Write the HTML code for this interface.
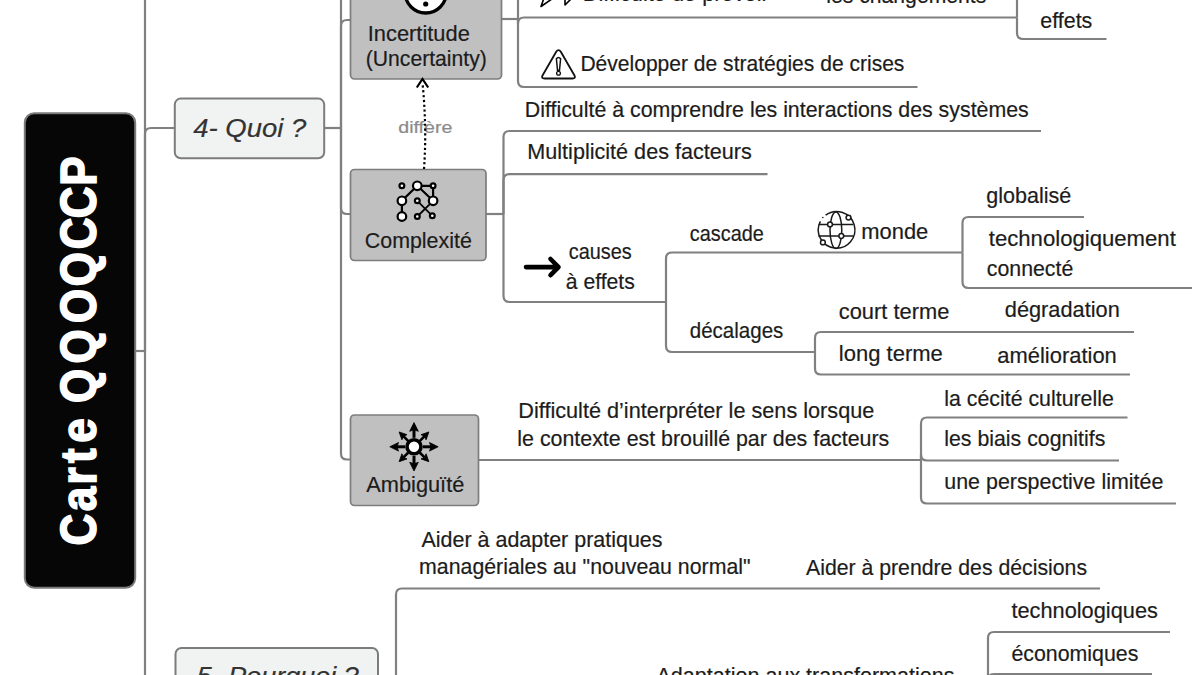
<!DOCTYPE html>
<html><head><meta charset="utf-8"><title>Carte QQOQCCP</title>
<style>html,body{margin:0;padding:0;background:#fff;width:1200px;height:675px;overflow:hidden}svg{display:block}text{font-family:"Liberation Sans",sans-serif}</style>
</head><body><svg width="1200" height="675" viewBox="0 0 1200 675"><g fill="none" stroke="#808080" stroke-width="2.2" stroke-linecap="butt"><path d="M135 351L145 351"/><path d="M145 0V675"/><path d="M145 351V134Q145 128 151 128H174"/><path d="M145 677L175 677"/><path d="M324 128L341 128"/><path d="M341 128V0"/><path d="M341 128V26Q341 20 347 20H350"/><path d="M341 128V208Q341 214 347 214H350"/><path d="M341 128V453.5Q341 459.5 347 459.5H350"/><path d="M501 19L518 19"/><path d="M518 19V0"/><path d="M518 19V23.5Q518 17.5 524 17.5H1017"/><path d="M518 19V81Q518 87 524 87H917.5"/><path d="M1017 17.5V0"/><path d="M1017 17.5V33Q1017 39 1023 39H1106.5"/><path d="M486 214L503.5 214"/><path d="M503.5 214V137Q503.5 131 509.5 131H1041"/><path d="M503.5 214V180.2Q503.5 174.2 509.5 174.2H767.5"/><path d="M503.5 214V296Q503.5 302 509.5 302H666"/><path d="M666 302V258.5Q666 252.5 672 252.5H962.5"/><path d="M666 302V346Q666 352 672 352H815"/><path d="M962.5 252.5V223Q962.5 217 968.5 217H1084"/><path d="M962.5 252.5V282Q962.5 288 968.5 288H1192"/><path d="M815 352V338Q815 332 821 332H1134"/><path d="M815 352V368.5Q815 374.5 821 374.5H1130"/><path d="M478 460L921 460"/><path d="M921 460V423.5Q921 417.5 927 417.5H1127.5"/><path d="M921 460V454.5Q921 460.5 927 460.5H1119"/><path d="M921 460V497.5Q921 503.5 927 503.5H1176"/><path d="M378 677L396 677"/><path d="M396 677V594.5Q396 588.5 402 588.5H1100"/><path d="M396 677V675"/><path d="M988 690V638Q988 632 994 632H1170"/><path d="M988 690V680Q988 674 994 674H1152"/></g><rect x="24.8" y="113.2" width="110.4" height="474.6" rx="9.5" fill="#060606" stroke="#7a7a7a" stroke-width="2"/><rect x="174.8" y="98.6" width="149.4" height="59.6" rx="6" fill="#f1f3f3" stroke="#7c7c7c" stroke-width="2"/><rect x="175.5" y="648" width="202.5" height="60" rx="6" fill="#f1f3f3" stroke="#7c7c7c" stroke-width="2"/><rect x="350.5" y="-40" width="151" height="119" rx="4" fill="#c0c0c0" stroke="#7d7d7d" stroke-width="1.7"/><rect x="350.5" y="169.5" width="135.5" height="91" rx="4" fill="#c0c0c0" stroke="#7d7d7d" stroke-width="1.7"/><rect x="350.5" y="415" width="128" height="90.5" rx="4" fill="#c0c0c0" stroke="#7d7d7d" stroke-width="1.7"/><g font-family="Liberation Sans, sans-serif" stroke-width="0.2"><text x="-204.0 -169.3 -143.2 -120.0 -91.6 -40.9 4.0 50.0 92.0 132.5 167.8 203.4" y="0" font-size="50" font-weight="bold" fill="#fff" text-anchor="middle" stroke="#fff" stroke-width="1.6" transform="translate(96.1 350) rotate(-90) scale(0.88 1)">CarteQQOQCCP</text><text x="249.8" y="136.5" font-size="26" fill="#333" stroke="#333" text-anchor="middle" font-style="italic" textLength="113" lengthAdjust="spacingAndGlyphs">4- Quoi ?</text><text x="277.8" y="684.5" font-size="26" fill="#333" stroke="#333" text-anchor="middle" font-style="italic" textLength="162" lengthAdjust="spacingAndGlyphs">5- Pourquoi ?</text><text x="367.8" y="40.5" font-size="21.4" fill="#1c1c1c" stroke="#1c1c1c" textLength="102" lengthAdjust="spacingAndGlyphs">Incertitude</text><text x="365.8" y="65.8" font-size="21.4" fill="#1c1c1c" stroke="#1c1c1c" textLength="121" lengthAdjust="spacingAndGlyphs">(Uncertainty)</text><text x="418.3" y="247.5" font-size="21.4" fill="#1c1c1c" stroke="#1c1c1c" text-anchor="middle" textLength="107" lengthAdjust="spacingAndGlyphs">Complexité</text><text x="415.3" y="491.5" font-size="21.4" fill="#1c1c1c" stroke="#1c1c1c" text-anchor="middle" textLength="98" lengthAdjust="spacingAndGlyphs">Ambiguïté</text><text x="425.3" y="132.5" font-size="17" fill="#8a8a8a" stroke="#8a8a8a" text-anchor="middle" textLength="54" lengthAdjust="spacingAndGlyphs">diffère</text><text x="582.8" y="1.3" font-size="21.4" fill="#1c1c1c" stroke="#1c1c1c" textLength="186" lengthAdjust="spacingAndGlyphs">Difficulté de prévoir</text><text x="826.3" y="3.0" font-size="21.4" fill="#1c1c1c" stroke="#1c1c1c" textLength="160" lengthAdjust="spacingAndGlyphs">les changements</text><text x="1040.3" y="28.1" font-size="21.4" fill="#1c1c1c" stroke="#1c1c1c" textLength="52" lengthAdjust="spacingAndGlyphs">effets</text><text x="580.4" y="70.9" font-size="21.4" fill="#1c1c1c" stroke="#1c1c1c" textLength="324" lengthAdjust="spacingAndGlyphs">Développer de stratégies de crises</text><text x="524.8" y="116.5" font-size="21.4" fill="#1c1c1c" stroke="#1c1c1c" textLength="504" lengthAdjust="spacingAndGlyphs">Difficulté à comprendre les interactions des systèmes</text><text x="527.3" y="159.3" font-size="21.4" fill="#1c1c1c" stroke="#1c1c1c" textLength="224.5" lengthAdjust="spacingAndGlyphs">Multiplicité des facteurs</text><text x="600.3" y="259.3" font-size="21.4" fill="#1c1c1c" stroke="#1c1c1c" text-anchor="middle" textLength="63" lengthAdjust="spacingAndGlyphs">causes</text><text x="600.3" y="289.3" font-size="21.4" fill="#1c1c1c" stroke="#1c1c1c" text-anchor="middle" textLength="69" lengthAdjust="spacingAndGlyphs">à effets</text><text x="689.8" y="240.5" font-size="21.4" fill="#1c1c1c" stroke="#1c1c1c" textLength="74" lengthAdjust="spacingAndGlyphs">cascade</text><text x="861.3" y="238.5" font-size="21.4" fill="#1c1c1c" stroke="#1c1c1c" textLength="67" lengthAdjust="spacingAndGlyphs">monde</text><text x="986.3" y="202.8" font-size="21.4" fill="#1c1c1c" stroke="#1c1c1c" textLength="85" lengthAdjust="spacingAndGlyphs">globalisé</text><text x="988.8" y="245.5" font-size="21.4" fill="#1c1c1c" stroke="#1c1c1c" textLength="187" lengthAdjust="spacingAndGlyphs">technologiquement</text><text x="986.8" y="276.3" font-size="21.4" fill="#1c1c1c" stroke="#1c1c1c" textLength="86.5" lengthAdjust="spacingAndGlyphs">connecté</text><text x="689.8" y="338.0" font-size="21.4" fill="#1c1c1c" stroke="#1c1c1c" textLength="93.5" lengthAdjust="spacingAndGlyphs">décalages</text><text x="838.8" y="318.5" font-size="21.4" fill="#1c1c1c" stroke="#1c1c1c" textLength="110.5" lengthAdjust="spacingAndGlyphs">court terme</text><text x="1004.8" y="317.2" font-size="21.4" fill="#1c1c1c" stroke="#1c1c1c" textLength="115" lengthAdjust="spacingAndGlyphs">dégradation</text><text x="838.8" y="360.5" font-size="21.4" fill="#1c1c1c" stroke="#1c1c1c" textLength="104" lengthAdjust="spacingAndGlyphs">long terme</text><text x="997.3" y="362.5" font-size="21.4" fill="#1c1c1c" stroke="#1c1c1c" textLength="119.5" lengthAdjust="spacingAndGlyphs">amélioration</text><text x="518.3" y="418.0" font-size="21.4" fill="#1c1c1c" stroke="#1c1c1c" textLength="356" lengthAdjust="spacingAndGlyphs">Difficulté d’interpréter le sens lorsque</text><text x="517.3" y="446.1" font-size="21.4" fill="#1c1c1c" stroke="#1c1c1c" textLength="372" lengthAdjust="spacingAndGlyphs">le contexte est brouillé par des facteurs</text><text x="944.3" y="405.5" font-size="21.4" fill="#1c1c1c" stroke="#1c1c1c" textLength="169.5" lengthAdjust="spacingAndGlyphs">la cécité culturelle</text><text x="944.3" y="446.3" font-size="21.4" fill="#1c1c1c" stroke="#1c1c1c" textLength="161" lengthAdjust="spacingAndGlyphs">les biais cognitifs</text><text x="944.3" y="489.3" font-size="21.4" fill="#1c1c1c" stroke="#1c1c1c" textLength="219" lengthAdjust="spacingAndGlyphs">une perspective limitée</text><text x="421.5" y="546.5" font-size="21.4" fill="#1c1c1c" stroke="#1c1c1c" textLength="241" lengthAdjust="spacingAndGlyphs">Aider à adapter pratiques</text><text x="419.1" y="573.8" font-size="21.4" fill="#1c1c1c" stroke="#1c1c1c" textLength="331.5" lengthAdjust="spacingAndGlyphs">managériales au "nouveau normal"</text><text x="806.0" y="575.3" font-size="21.4" fill="#1c1c1c" stroke="#1c1c1c" textLength="281" lengthAdjust="spacingAndGlyphs">Aider à prendre des décisions</text><text x="656.5" y="682.5" font-size="21.4" fill="#1c1c1c" stroke="#1c1c1c" textLength="298" lengthAdjust="spacingAndGlyphs">Adaptation aux transformations</text><text x="1011.4" y="617.5" font-size="21.4" fill="#1c1c1c" stroke="#1c1c1c" textLength="146.5" lengthAdjust="spacingAndGlyphs">technologiques</text><text x="1011.4" y="660.5" font-size="21.4" fill="#1c1c1c" stroke="#1c1c1c" textLength="127" lengthAdjust="spacingAndGlyphs">économiques</text></g><circle cx="425.7" cy="-7.6" r="20.6" fill="#fff" stroke="#000" stroke-width="3.3"/><circle cx="425.7" cy="4" r="2.6" fill="#000"/><path d="M424 169 Q427 128 422.5 83" fill="none" stroke="#000" stroke-width="2.2" stroke-dasharray="2.2 2.6"/><path d="M416.8 87.5 L422.5 79 L428.2 87.5" fill="none" stroke="#000" stroke-width="2.2" stroke-linejoin="miter"/><path d="M553.3 -2 L541 6.5 L544 -2" fill="none" stroke="#000" stroke-width="1.6" stroke-linejoin="round"/><path d="M565 -2 V5 L572 -2" fill="none" stroke="#000" stroke-width="1.6" stroke-linejoin="round"/><path d="M556.2 51.8 Q558.5 48.5 560.8 51.8 L574.5 75.5 Q576 78.5 572.5 78.5 L544.5 78.5 Q541 78.5 542.5 75.5 Z" fill="none" stroke="#111" stroke-width="1.8" stroke-linejoin="round"/><path d="M556.4 58.8 Q558.5 56 560.6 58.8 L559.5 70.2 L557.5 70.2 Z" fill="none" stroke="#111" stroke-width="1.5"/><circle cx="558.5" cy="73.3" r="1.9" fill="none" stroke="#111" stroke-width="1.3"/><g stroke="#000" fill="none"><path d="M417.3 185.8H433.1V200.8M417.3 185.8L401.9 200.8V216.5M417.3 185.8L433.1 200.8" stroke-width="2.2"/><path d="M417.3 200.8L432.3 215.8M417.3 216.5L433.1 200.8" stroke-width="1.8"/></g><g stroke="#000" fill="#fff" stroke-width="2.2"><circle cx="401.9" cy="185.8" r="2.4"/><circle cx="417.3" cy="185.8" r="4.3"/><circle cx="433.1" cy="185.8" r="2.4"/><circle cx="401.9" cy="200.8" r="4.3"/><circle cx="417.3" cy="200.8" r="2.4"/><circle cx="433.1" cy="200.8" r="4.3"/><circle cx="401.9" cy="216.5" r="4.3"/><circle cx="417.3" cy="216.5" r="2.4"/><circle cx="432.3" cy="215.8" r="2.4"/></g><g transform="translate(414 446.8)" fill="#000" stroke="#000"><g transform="rotate(0)"><path d="M0 -9V-17" stroke-width="3"/><path d="M0 -24.2L-4.3 -15.5L0 -17L4.3 -15.5Z" stroke-width="0.8" stroke-linejoin="round"/></g><g transform="rotate(90)"><path d="M0 -9V-17" stroke-width="3"/><path d="M0 -24.2L-4.3 -15.5L0 -17L4.3 -15.5Z" stroke-width="0.8" stroke-linejoin="round"/></g><g transform="rotate(180)"><path d="M0 -9V-17" stroke-width="3"/><path d="M0 -24.2L-4.3 -15.5L0 -17L4.3 -15.5Z" stroke-width="0.8" stroke-linejoin="round"/></g><g transform="rotate(270)"><path d="M0 -9V-17" stroke-width="3"/><path d="M0 -24.2L-4.3 -15.5L0 -17L4.3 -15.5Z" stroke-width="0.8" stroke-linejoin="round"/></g><g transform="rotate(45)"><path d="M0 -8V-15" stroke-width="2.6"/><path d="M0 -21L-3.6 -13.5L0 -15L3.6 -13.5Z" stroke-width="0.8"/></g><g transform="rotate(135)"><path d="M0 -8V-15" stroke-width="2.6"/><path d="M0 -21L-3.6 -13.5L0 -15L3.6 -13.5Z" stroke-width="0.8"/></g><g transform="rotate(225)"><path d="M0 -8V-15" stroke-width="2.6"/><path d="M0 -21L-3.6 -13.5L0 -15L3.6 -13.5Z" stroke-width="0.8"/></g><g transform="rotate(315)"><path d="M0 -8V-15" stroke-width="2.6"/><path d="M0 -21L-3.6 -13.5L0 -15L3.6 -13.5Z" stroke-width="0.8"/></g><circle r="7" fill="#fff" stroke-width="3.6"/></g><path d="M526 267.1H557M550.5 259L558.5 267.1L550.5 275.2" fill="none" stroke="#000" stroke-width="4.6" stroke-linecap="round" stroke-linejoin="round"/><g fill="none" stroke="#1a1a1a" stroke-width="1.5"><path d="M825.6 215.2 A18.3 18.3 0 1 1 820.4 221.3"/><ellipse cx="835.9" cy="230.2" rx="5.9" ry="18.3"/><path d="M818.8 224.4H853M818.3 236H853.5"/><g fill="#fff"><circle cx="830" cy="224.4" r="2.4"/><circle cx="841.3" cy="236" r="2.4"/><circle cx="848.5" cy="217.6" r="2.4"/><circle cx="822.9" cy="242.4" r="2.4"/></g><circle cx="822.8" cy="217.5" r="0.8" fill="#1a1a1a" stroke="none"/></g></svg></body></html>
